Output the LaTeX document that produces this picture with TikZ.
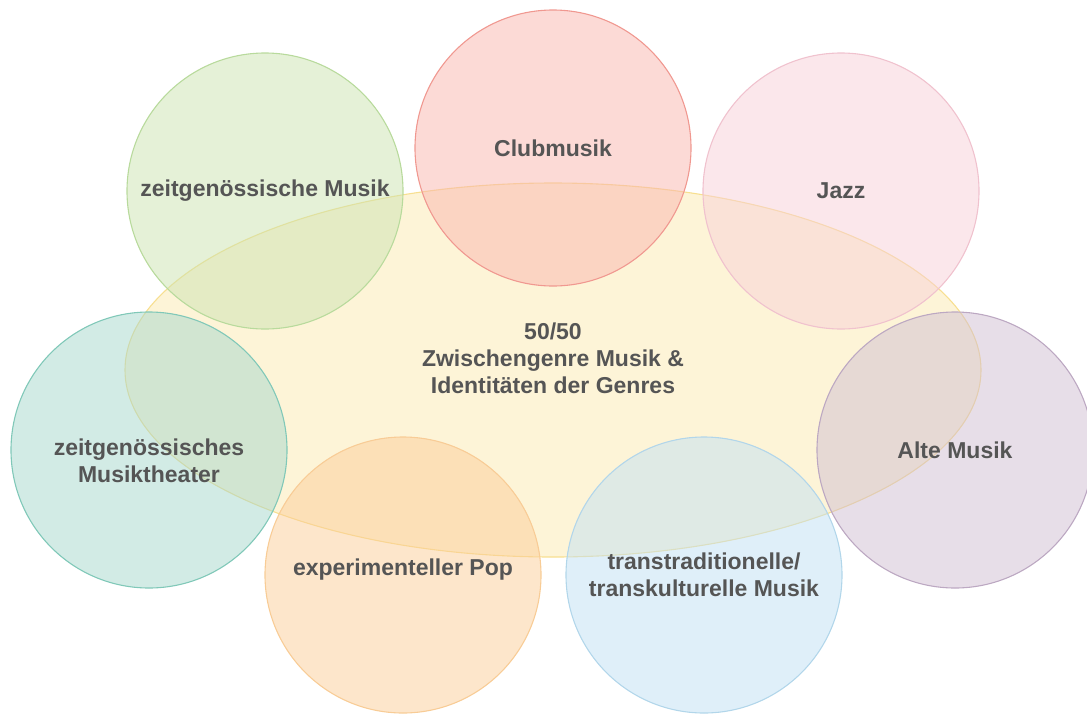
\documentclass[tikz,border=0pt]{standalone}
\usepackage{fontspec}
\setmainfont{Liberation Sans}
\definecolor{txtgray}{HTML}{555555}
\definecolor{ellfill}{HTML}{FCE9B0}
\definecolor{elldraw}{HTML}{F7DF90}
\definecolor{grnfill}{HTML}{CBE3B0}
\definecolor{grndraw}{HTML}{B8DA9C}
\definecolor{redfill}{HTML}{F9B5AE}
\definecolor{reddraw}{HTML}{F09890}
\definecolor{pnkfill}{HTML}{F7D0D8}
\definecolor{pnkdraw}{HTML}{F0C2CE}
\definecolor{tealfill}{HTML}{A6D7CC}
\definecolor{tealdraw}{HTML}{80C8B8}
\definecolor{purfill}{HTML}{D0BED2}
\definecolor{purdraw}{HTML}{BCA8C2}
\definecolor{orgfill}{HTML}{FBCD98}
\definecolor{orgdraw}{HTML}{F8CC96}
\definecolor{bluefill}{HTML}{C0E0F4}
\definecolor{bluedraw}{HTML}{B2D6EA}
\tikzset{
  genre/.style={circle, minimum size=276pt, inner sep=0pt, line width=1.1pt,
    fill opacity=0.5, text opacity=1, text=txtgray, align=center,
    font=\fontsize{23}{27}\selectfont\bfseries},
  lbl/.style={text=txtgray, align=center, font=\fontsize{23}{27}\selectfont\bfseries}
}
\begin{document}
\begin{tikzpicture}[x=1pt,y=-1pt]
    \useasboundingbox (0,0) rectangle (1087,713);
    % middle ellipse
    \fill[ellfill,fill opacity=0.5] (553,370) ellipse [x radius=428, y radius=187];
    \draw[elldraw,line width=1.1pt] (553,370) ellipse [x radius=428, y radius=187];
    \node[lbl] (mid) at (553,358) {50/50\\Zwischengenre Musik \&\\Identitäten der Genres};
    % genres round the ellipse
    \node[genre, fill=grnfill, draw=grndraw] (zeit) at (265,191) {zeitgenössische Musik};
    \node[genre, fill=redfill, draw=reddraw] (club) at (553,148) {Clubmusik};
    \node[genre, fill=pnkfill, draw=pnkdraw] (jazz) at (841,191) {Jazz};
    \node[genre, fill=tealfill, draw=tealdraw] (theater) at (149,450) {};
    \node[lbl] (theatertxt) at (149,461) {zeitgenössisches\\Musiktheater};
    \node[genre, fill=purfill, draw=purdraw] (alte) at (955,450) {Alte Musik};
    \node[genre, fill=orgfill, draw=orgdraw] (pop) at (403,575) {};
    \node[lbl] (poptxt) at (403,570) {experimenteller Pop};
    \node[genre, fill=bluefill, draw=bluedraw] (trans) at (704,575) {transtraditionelle/\\transkulturelle Musik};
\end{tikzpicture}
\end{document}
